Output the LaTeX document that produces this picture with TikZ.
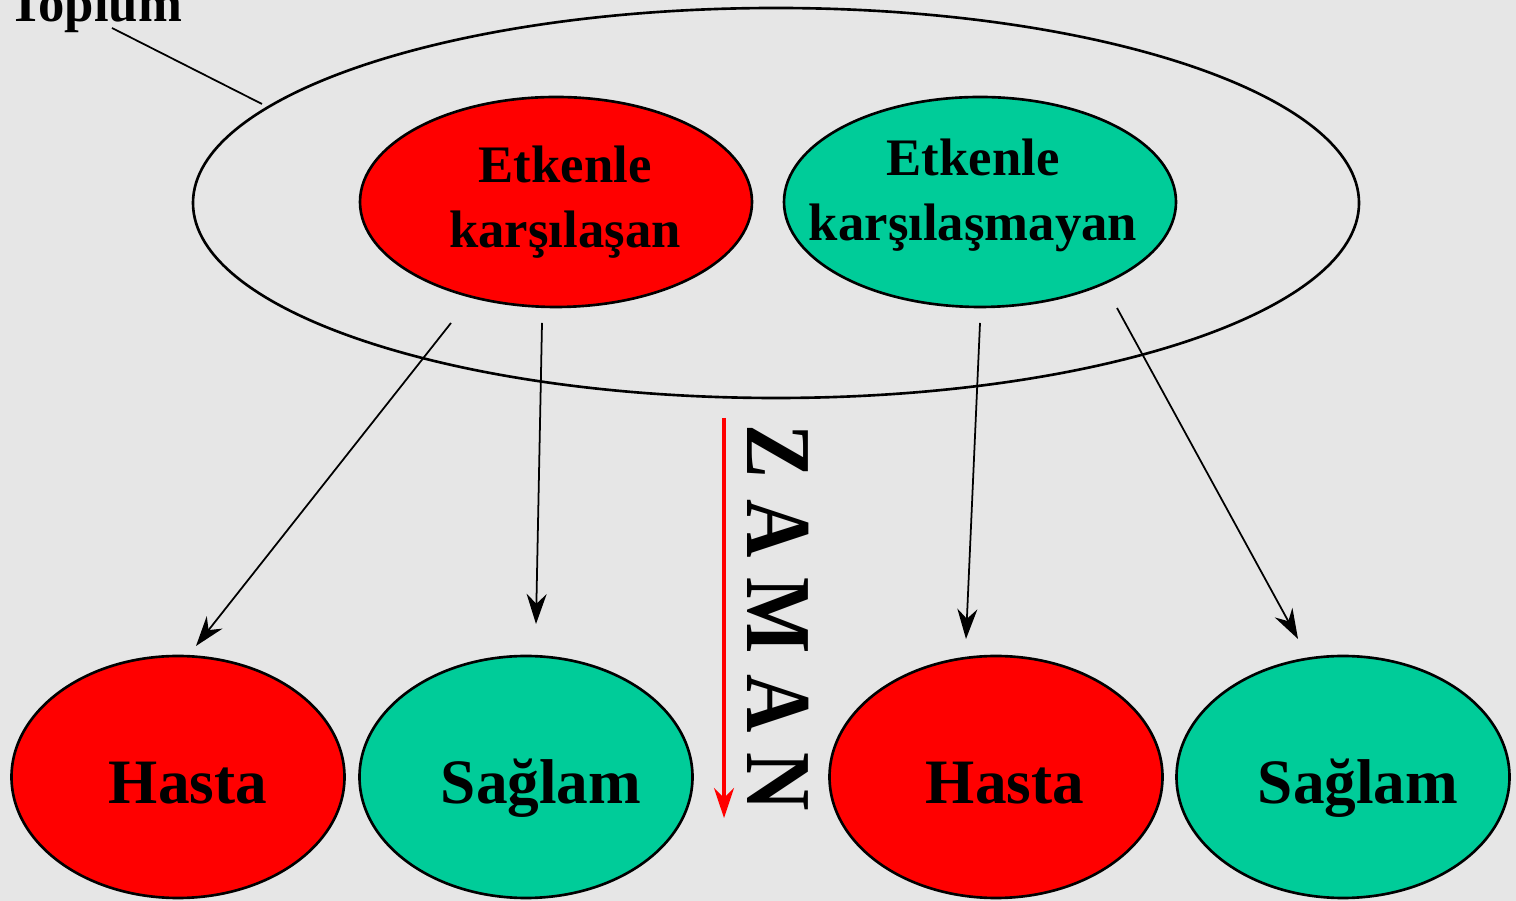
\documentclass[tikz,border=0pt]{standalone}
\usepackage{fontspec}
\setmainfont{Liberation Serif}
\usepackage{xcolor}
\usepackage{tikz}
\usetikzlibrary{positioning,shapes.geometric,arrows.meta}
\definecolor{hastared}{HTML}{FF0000}
\definecolor{saglamgreen}{HTML}{00CC99}
\definecolor{paper}{HTML}{E6E6E6}
\tikzset{oval/.style = {ellipse,draw,line width=0.75pt,inner sep=0pt},
         topoval/.style = {oval,minimum width=3.92cm,minimum height=2.10cm},
         lowoval/.style = {oval,minimum width=3.33cm,minimum height=2.42cm},
         toptext/.style = {align=center,font=\fontsize{15}{18.5}\selectfont\bfseries},
         lowtext/.style = {text height=12pt,text depth=0pt,inner ysep=0pt,yshift=-0.05cm,font=\fontsize{18}{22}\selectfont\bfseries},
         arr/.style = {-{Stealth[length=3mm,width=2mm]},line width=0.5pt}}

\begin{document}
\begin{tikzpicture}
            \useasboundingbox[fill=paper] (0,0) rectangle (15.16,9.01);
            % toplum
            \node[oval,minimum width=11.66cm,minimum height=3.90cm] (toplum) at (7.76,6.98) {};
            \node[anchor=base,font=\fontsize{15}{18}\selectfont\bfseries] (toplumlbl) at (0.95,8.79) {Toplum};
            \coordinate (t1) at (1.12,8.73);
            \coordinate (t2) at (2.62,7.97);
            \draw[line width=0.5pt] (t1) -- (t2);
            % etkenle
            \node[topoval,fill=hastared,label={[toptext,xshift=0.09cm]center:Etkenle\\karşılaşan}] (ek) at (5.56,6.99) {};
            \node[topoval,fill=saglamgreen,label={[toptext,xshift=-0.07cm,yshift=0.07cm]center:Etkenle\\karşılaşmayan}] (ekm) at (9.80,6.99) {};
            % sonuc
            \node[lowoval,fill=hastared,label={[lowtext,xshift=0.10cm]center:Hasta}] (hasta1) at (1.78,1.24) {};
            \node[lowoval,fill=saglamgreen,label={[lowtext,xshift=0.15cm]center:Sağlam}] (saglam1) at (5.26,1.24) {};
            \node[lowoval,fill=hastared,label={[lowtext,xshift=0.09cm]center:Hasta}] (hasta2) at (9.96,1.24) {};
            \node[lowoval,fill=saglamgreen,label={[lowtext,xshift=0.15cm]center:Sağlam}] (saglam2) at (13.43,1.24) {};
            % oklar
            \coordinate (a1) at (4.51,5.78);  \coordinate (b1) at (1.96,2.55);
            \coordinate (a2) at (5.42,5.78);  \coordinate (b2) at (5.36,2.77);
            \coordinate (a3) at (9.80,5.78);  \coordinate (b3) at (9.66,2.62);
            \coordinate (a4) at (11.17,5.93); \coordinate (b4) at (12.98,2.62);
            \foreach \i in {1,2,3,4}
                \draw[arr] (a\i) -- (b\i);
            % zaman
            \coordinate (z1) at (7.24,4.83);
            \coordinate (z2) at (7.24,0.83);
            \draw[-{Stealth[length=3mm,width=2mm]},line width=1pt,hastared] (z1) -- (z2);
            \node[rotate=-90,yscale=1.15,font=\fontsize{23}{26}\selectfont\bfseries] (zaman) at (7.78,2.83) {Z A M A N};
        \end{tikzpicture}
\end{document}
